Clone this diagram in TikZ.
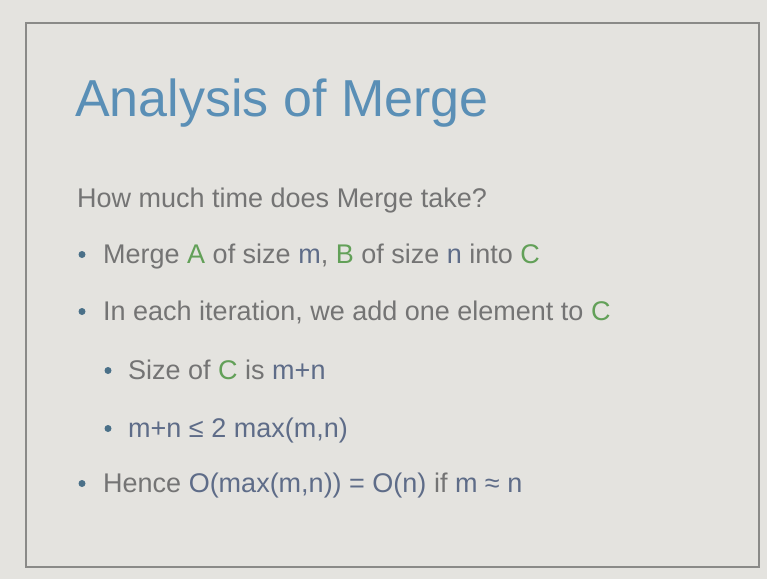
\documentclass[tikz,border=0pt]{standalone}
\usepackage{fontspec}
\setmainfont{Liberation Sans}
\definecolor{slidebg}{HTML}{E4E3DF}
\definecolor{rahmen}{HTML}{8A8A88}
\definecolor{titleblue}{HTML}{5A8FB6}
\definecolor{textgrey}{HTML}{747474}
\definecolor{mathslate}{HTML}{5E6C88}
\definecolor{namegreen}{HTML}{62A058}
\definecolor{dotblue}{HTML}{4A7088}
\newcommand{\arr}[1]{\textcolor{namegreen}{#1}}
\newcommand{\mth}[1]{\textcolor{mathslate}{#1}}
\begin{document}
\begin{tikzpicture}[x=1pt,y=-1pt,
  line/.style={anchor=base west,inner sep=0pt,text=textgrey,font=\fontsize{27}{32}\selectfont},
  dot/.style={circle,fill=dotblue,inner sep=0pt,minimum size=7pt}]
\def\lx{103}
\def\sx{128}
\def\punkt#1#2#3{
\node[dot] (#1) at (#2,{#3-8.5}) {};
}
\useasboundingbox (0,0) rectangle (767,579);
\fill[slidebg] (0,0) rectangle (767,579);
\draw[rahmen,line width=1.3pt] (26,23) rectangle (759,567);
\coordinate (ptitle) at (75,116);
\coordinate (pfrage) at (77,207);
\coordinate (pmerge) at (\lx,263);
\coordinate (pstep) at (\lx,320);
\coordinate (psize) at (\sx,379);
\coordinate (pbound) at (\sx,437);
\coordinate (phence) at (\lx,492);
\punkt{dmerge}{82}{263}
\punkt{dstep}{82}{320}
\punkt{dsize}{108}{379}
\punkt{dbound}{108}{437}
\punkt{dhence}{82}{492}
\node[line,text=titleblue,font=\fontsize{52}{60}\selectfont] (title) at (ptitle) {Analysis of Merge};
\node[line] (frage) at (pfrage) {How much time does Merge take?};
\node[line] (merge) at (pmerge) {Merge \arr{A} of size \mth{m}, \arr{B} of size \mth{n} into \arr{C}};
\node[line] (step) at (pstep) {In each iteration, we add one element to \arr{C}};
\node[line] (size) at (psize) {Size of \arr{C} is \mth{m+n}};
\node[line] (bound) at (pbound) {\mth{m+n ≤ 2 max(m,n)}};
\node[line] (hence) at (phence) {Hence \mth{O(max(m,n)) = O(n)} if \mth{m ≈ n}};
\end{tikzpicture}
\end{document}
